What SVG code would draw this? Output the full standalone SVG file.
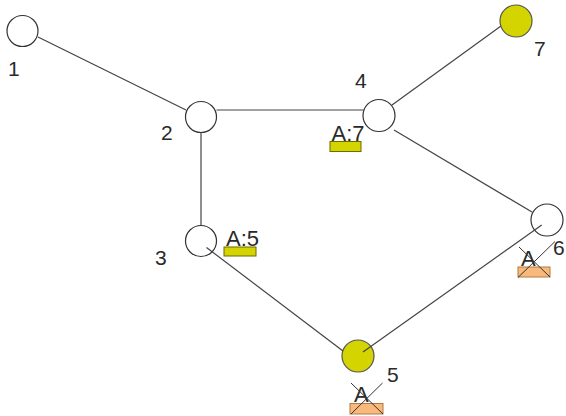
<svg xmlns="http://www.w3.org/2000/svg" width="566" height="416" viewBox="0 0 566 416">
<style>
.e{stroke:#444;stroke-width:1.2;fill:none}
.n{fill:#fff;stroke:#333;stroke-width:1.2}
.y{fill:#d4d400;stroke:#555;stroke-width:1.2}
.t{font-family:"Liberation Sans",Arial,sans-serif;font-size:21px;fill:#2a2a2a}
.a{font-family:"Liberation Sans",Arial,sans-serif;font-size:22px;fill:#2a2a2a}
.ry{fill:#d4d400;stroke:#6b6b00;stroke-width:1}
.ro{fill:#f9b97c;stroke:#b07a40;stroke-width:1}
.x{stroke:#333;stroke-width:1}
</style>
<rect width="566" height="416" fill="#fff"/>
<g id="edges-under">
<line class="e" x1="38" y1="37" x2="186" y2="110"/>
<line class="e" x1="216.5" y1="110" x2="363.5" y2="110"/>
<line class="e" x1="201" y1="132" x2="201" y2="225"/>
<line class="e" x1="394" y1="130" x2="532" y2="212"/>
<line class="e" x1="392" y1="105" x2="501" y2="26"/>
</g>
<g id="n1"><circle class="n" cx="22.5" cy="31" r="15.5"/><text class="t" x="8" y="76">1</text></g>
<g id="n2"><circle class="n" cx="201" cy="117" r="15.5"/><text class="t" x="161" y="140">2</text></g>
<g id="n3"><circle class="n" cx="201" cy="241" r="15.5"/><text class="t" x="155" y="265">3</text>
<rect class="ry" x="224" y="247" width="32" height="9"/><text class="a" x="226" y="246">A:5</text></g>
<g id="n4"><circle class="n" cx="379" cy="115.5" r="16"/><text class="t" x="355" y="88">4</text>
<rect class="ry" x="330" y="141.5" width="31" height="10"/><text class="a" x="331.5" y="140.5">A:7</text></g>
<g id="n5"><circle class="y" cx="358" cy="356" r="16"/><text class="t" x="387" y="382">5</text>
<rect class="ro" x="350" y="403.5" width="33" height="10.5"/><text class="a" x="354" y="402">A</text>
<line class="x" x1="351" y1="383" x2="383" y2="414"/><line class="x" x1="382.5" y1="383" x2="351" y2="414"/></g>
<g id="n6"><circle class="n" cx="547" cy="220" r="16"/><text class="t" x="553" y="255">6</text>
<rect class="ro" x="518" y="267" width="32" height="10"/><text class="a" x="521" y="266">A</text>
<line class="x" x1="519" y1="247" x2="550" y2="277"/><line class="x" x1="555" y1="241.5" x2="518" y2="277.5"/></g>
<g id="n7"><circle class="y" cx="516" cy="21" r="16"/><text class="t" x="534" y="56">7</text></g>
<g id="edges-over">
<line class="e" x1="206.5" y1="247.5" x2="343" y2="351"/>
<line class="e" x1="541.7" y1="225" x2="363" y2="352"/>
</g>
</svg>
